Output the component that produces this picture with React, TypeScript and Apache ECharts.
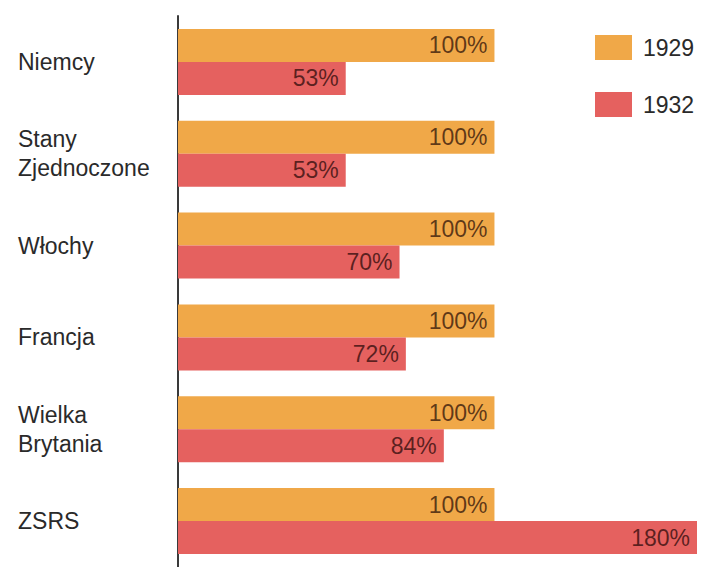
import React, { useEffect, useRef } from "react";
import * as echarts from "echarts";

const categories = ["Niemcy", "Stany\nZjednoczone", "Włochy", "Francja", "Wielka\nBrytania", "ZSRS"];
const values1929 = [100, 100, 100, 100, 100, 100];
const values1932 = [53, 53, 70, 72, 84, 180];
const seriesNames = ["1929", "1932"];

export default function App() {
  const ref = useRef<HTMLDivElement>(null);
  useEffect(() => {
    document.body.style.margin = "0";
    const chart = echarts.init(ref.current!, null, { renderer: "svg" });
    const font = "'Liberation Sans', Arial, Helvetica, sans-serif";
    const labelCfg = {
      show: true,
      position: "insideRight" as const,
      distance: 7,
      fontSize: 23,
      fontFamily: font,
      color: "rgba(20,0,0,0.68)",
      formatter: (p: any) => `${p.value}%`,
    };
    chart.setOption({
      animation: false,
      backgroundColor: "#ffffff",
      legend: {
        orient: "vertical",
        left: 590,
        top: 30,
        itemWidth: 37,
        itemHeight: 25,
        itemGap: 32,
        icon: "rect",
        textStyle: { fontSize: 23, fontFamily: font, color: "#2a2a2a", padding: [0, 0, 0, 6] },
        data: seriesNames,
      },
      grid: { left: 178, right: 17, top: 16, bottom: -2, containLabel: false },
      xAxis: {
        type: "value",
        min: 0,
        max: 164,
        show: false,
        splitLine: { show: false },
      },
      yAxis: {
        type: "category",
        inverse: true,
        data: categories,
        axisLine: { show: true, lineStyle: { color: "#3a3a3a", width: 2 } },
        axisTick: { show: false },
        axisLabel: {
          align: "left",
          margin: 160,
          fontSize: 23,
          lineHeight: 29,
          fontFamily: font,
          color: "#2a2a2a",
        },
      },
      series: [
        {
          name: seriesNames[0],
          type: "bar",
          data: values1929,
          barWidth: 33,
          barGap: "0%",
          clip: true,
          itemStyle: { color: "#F0A848" },
          label: labelCfg,
          z: 1,
        },
        {
          name: seriesNames[1],
          type: "bar",
          data: values1932,
          barWidth: 33,
          barGap: "0%",
          clip: true,
          itemStyle: { color: "#E5615F" },
          label: labelCfg,
          z: 1,
        },
      ],
    });
    return () => chart.dispose();
  }, []);
  return <div ref={ref} style={{ width: 714, height: 567 }} />;
}
